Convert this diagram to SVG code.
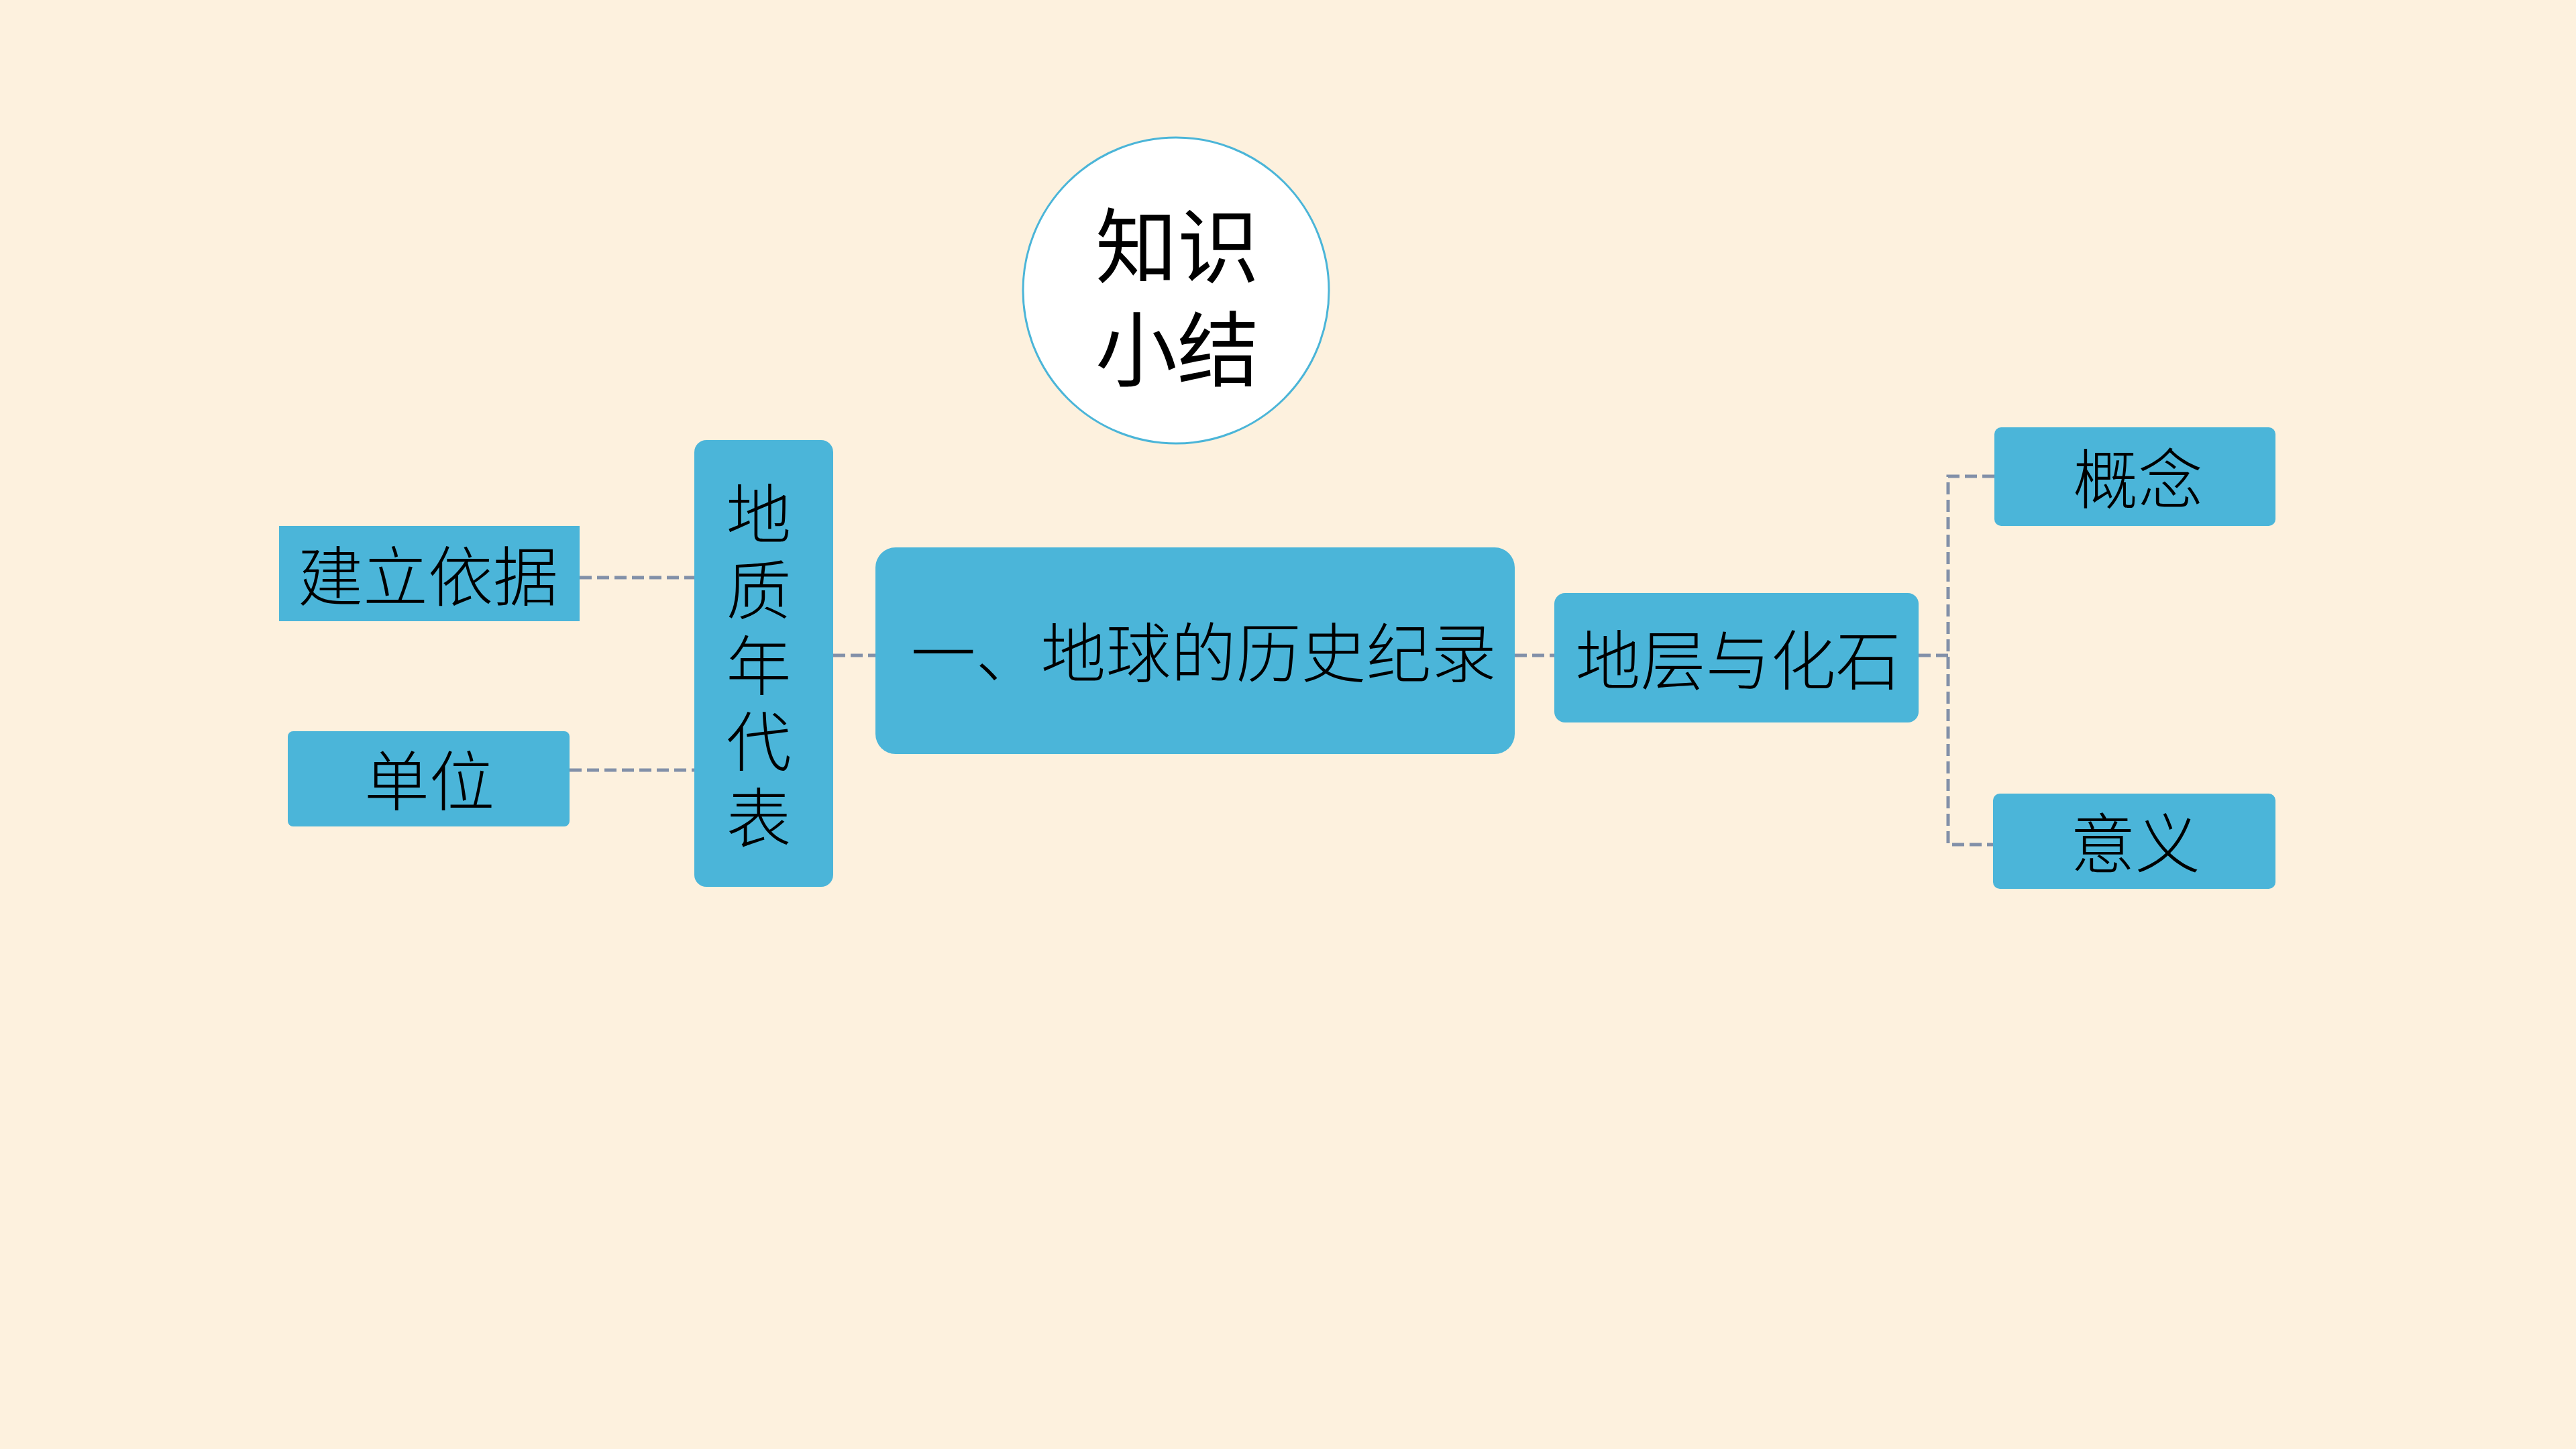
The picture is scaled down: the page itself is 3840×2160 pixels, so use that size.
<svg xmlns="http://www.w3.org/2000/svg" width="3840" height="2160" viewBox="0 0 3840 2160">
<style>
.bg{fill:#fdf1de}
.box{fill:#4bb5d9}
.t{font-family:"Noto Sans CJK SC","Noto Sans",sans-serif;font-size:97px;fill:#000;text-anchor:middle;dominant-baseline:central;font-weight:300}
.ct{font-family:"Noto Sans CJK SC","Noto Sans",sans-serif;font-size:122px;fill:#000;text-anchor:middle;dominant-baseline:central;font-weight:400}
.c{fill:none;stroke:#8290a8;stroke-width:5;stroke-dasharray:18 8}
</style>
<rect class="bg" x="0" y="0" width="3840" height="2160"/>
<g id="connectors">
<line class="c" x1="864" y1="861" x2="1036" y2="861"/>
<line class="c" x1="849" y1="1148" x2="1036" y2="1148"/>
<line class="c" x1="1242" y1="977" x2="1305" y2="977"/>
<line class="c" x1="2258" y1="977" x2="2317" y2="977"/>
<line class="c" x1="2860" y1="977" x2="2904" y2="977"/>
<polyline class="c" points="2973,710 2904,710 2904,1259 2971,1259"/>
</g>
<g id="title">
<circle cx="1753" cy="433" r="228" fill="#ffffff" stroke="#4bb5d8" stroke-width="3"/>
<text class="ct" x="1755" y="358"><tspan x="1755" y="358">知识</tspan><tspan x="1755" y="512">小结</tspan></text>
</g>
<g id="n-jianli">
<rect class="box" x="416" y="784" width="448" height="142"/>
<text class="t" x="638" y="852">建立依据</text>
</g>
<g id="n-danwei">
<rect class="box" x="429" y="1090" width="420" height="142" rx="8"/>
<text class="t" x="640" y="1157">单位</text>
</g>
<g id="n-dizhi">
<rect class="box" x="1035" y="656" width="207" height="666" rx="18"/>
<text class="t" x="1131" y="759"><tspan x="1131" y="759">地</tspan><tspan x="1131" y="872">质</tspan><tspan x="1131" y="985">年</tspan><tspan x="1131" y="1098">代</tspan><tspan x="1131" y="1212">表</tspan></text>
</g>
<g id="n-main">
<rect class="box" x="1305" y="816" width="953" height="308" rx="30"/>
<text class="t" x="1794" y="966">一、地球的历史纪录</text>
</g>
<g id="n-diceng">
<rect class="box" x="2317" y="884" width="543" height="193" rx="16"/>
<text class="t" x="2591" y="977">地层与化石</text>
</g>
<g id="n-gainian">
<rect class="box" x="2973" y="637" width="419" height="147" rx="10"/>
<text class="t" x="3187" y="707">概念</text>
</g>
<g id="n-yiyi">
<rect class="box" x="2971" y="1183" width="421" height="142" rx="10"/>
<text class="t" x="3183" y="1250">意义</text>
</g>
</svg>
